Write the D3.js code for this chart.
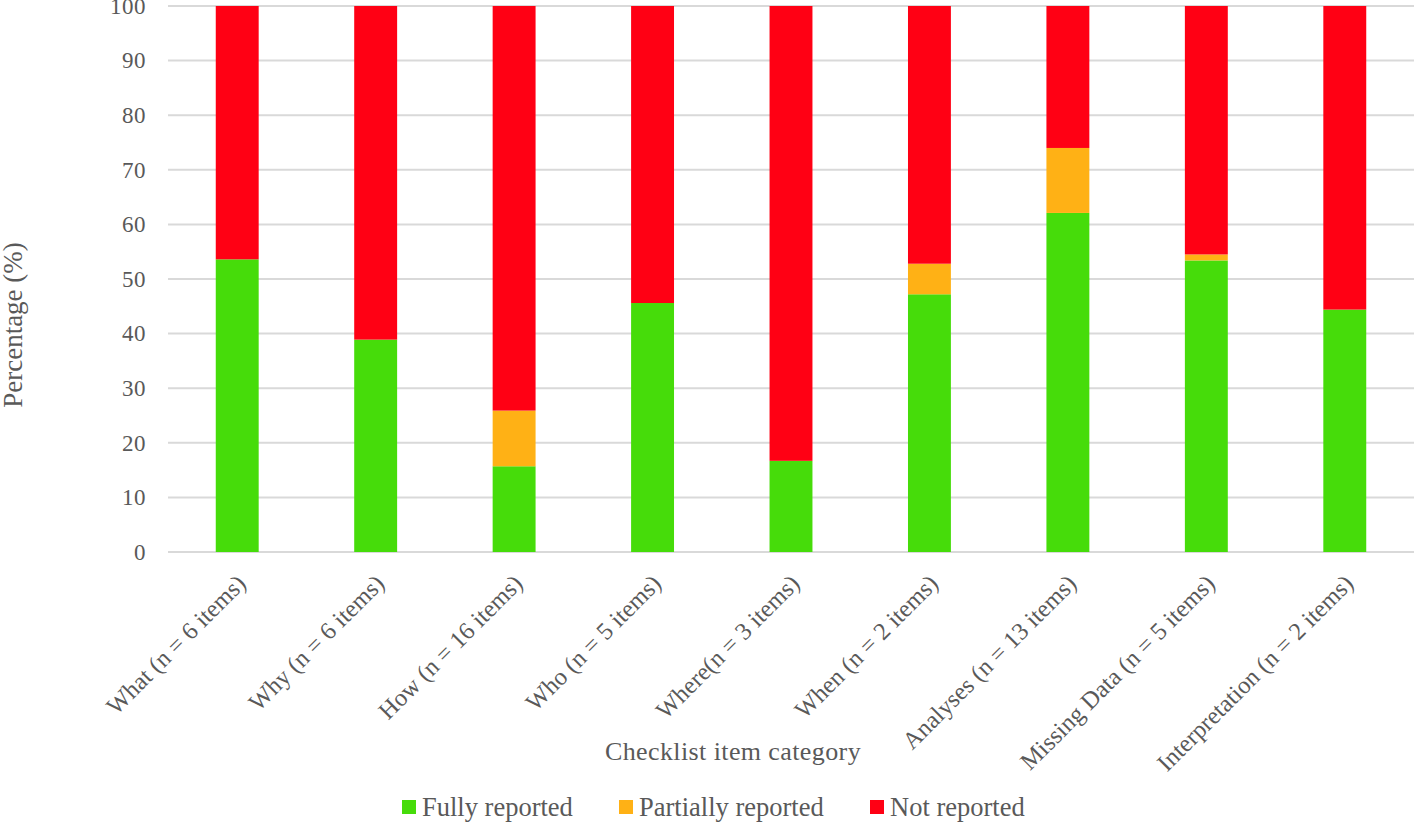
<!DOCTYPE html>
<html>
<head>
<meta charset="utf-8">
<script src="https://cdn.jsdelivr.net/npm/d3@7"></script>
<style>
  body { margin: 0; background: #fff; }
  text { font-family: "Liberation Serif", "Times New Roman", serif; fill: #595959; }
</style>
</head>
<body>
<div id="chart"></div>
<script>
// categories and values
var categories = ["What (n = 6 items)", "Why (n = 6 items)", "How (n = 16 items)", "Who (n = 5 items)",
    "Where(n = 3 items)", "When (n = 2 items)", "Analyses (n = 13 items)", "Missing Data (n = 5 items)",
    "Interpretation (n = 2 items)"];
var fully = [53.6, 38.9, 15.7, 45.6, 16.7, 47.2, 62.1, 53.4, 44.4];
var partially = [0, 0, 10.2, 0, 0, 5.6, 11.9, 1.1, 0];
var notReported = [46.4, 61.1, 74.1, 54.4, 83.3, 47.2, 26.0, 45.5, 55.6];
var seriesNames = ["Fully reported", "Partially reported", "Not reported"];
var seriesColors = ["#46dc0a", "#ffb115", "#ff0014"];
var yTicks = [0, 10, 20, 30, 40, 50, 60, 70, 80, 90, 100];

var width = 1414, height = 822;
var margin = {left: 168, right: 0, top: 6, bottom: 270};

var svg = d3.select("#chart").append("svg")
    .attr("width", width)
    .attr("height", height);

var x = d3.scaleBand()
    .domain(categories)
    .range([margin.left, width - margin.right])
    .paddingInner(0.69)
    .paddingOuter(0.345);

var y = d3.scaleLinear()
    .domain([0, 100])
    .range([height - margin.bottom, margin.top]);

// gridlines
svg.selectAll("line.grid")
    .data(yTicks)
    .enter()
    .append("line")
    .attr("class", "grid")
    .attr("x1", margin.left)
    .attr("x2", width - margin.right)
    .attr("y1", function(d) { return y(d); })
    .attr("y2", function(d) { return y(d); })
    .attr("stroke", "#d9d9d9")
    .attr("stroke-width", 2);

// y tick labels
svg.selectAll("text.ytick")
    .data(yTicks)
    .enter()
    .append("text")
    .attr("class", "ytick")
    .attr("x", 146)
    .attr("y", function(d) { return y(d); })
    .attr("dy", "0.34em")
    .attr("text-anchor", "end")
    .attr("font-size", "23px")
    .attr("letter-spacing", "0.5px")
    .text(function(d) { return d; });

// stacked bars
var table = categories.map(function(c, i) {
    return {cat: c, s0: fully[i], s1: partially[i], s2: notReported[i]};
});
var stack = d3.stack().keys(["s0", "s1", "s2"]);
var layers = stack(table);

svg.selectAll("g.layer")
    .data(layers)
    .enter()
    .append("g")
    .attr("class", "layer")
    .attr("fill", function(d, i) { return seriesColors[i]; })
    .selectAll("rect")
    .data(function(d) { return d; })
    .enter()
    .append("rect")
    .attr("x", function(d) { return x(d.data.cat); })
    .attr("width", x.bandwidth())
    .attr("y", function(d) { return y(d[1]); })
    .attr("height", function(d) { return y(d[0]) - y(d[1]); });

// x labels rotated
svg.selectAll("text.xlab")
    .data(categories)
    .enter()
    .append("text")
    .attr("class", "xlab")
    .attr("text-anchor", "end")
    .attr("font-size", "24.5px")
    .attr("transform", function(d) {
        var cx = x(d) + x.bandwidth() / 2 + 10;
        return "translate(" + cx + "," + (y(0) + 33) + ") rotate(-45)";
    })
    .text(function(d) { return d; });

// axis titles
svg.append("text")
    .attr("transform", "translate(22,325) rotate(-90)")
    .attr("text-anchor", "middle")
    .attr("font-size", "27px")
    .text("Percentage (%)");

svg.append("text")
    .attr("x", 733)
    .attr("y", 760)
    .attr("text-anchor", "middle")
    .attr("font-size", "26px")
    .attr("letter-spacing", "0.4px")
    .text("Checklist item category");

// legend
var legendX = [402, 619, 870];
var legend = svg.selectAll("g.legend")
    .data(seriesNames)
    .enter()
    .append("g")
    .attr("class", "legend")
    .attr("transform", function(d, i) { return "translate(" + legendX[i] + ",800)"; });

legend.append("rect")
    .attr("width", 14)
    .attr("height", 14)
    .attr("y", 0)
    .attr("fill", function(d, i) { return seriesColors[i]; });

legend.append("text")
    .attr("x", 20)
    .attr("y", 16)
    .attr("font-size", "26.5px")
    .text(function(d) { return d; });
</script>
</body>
</html>
